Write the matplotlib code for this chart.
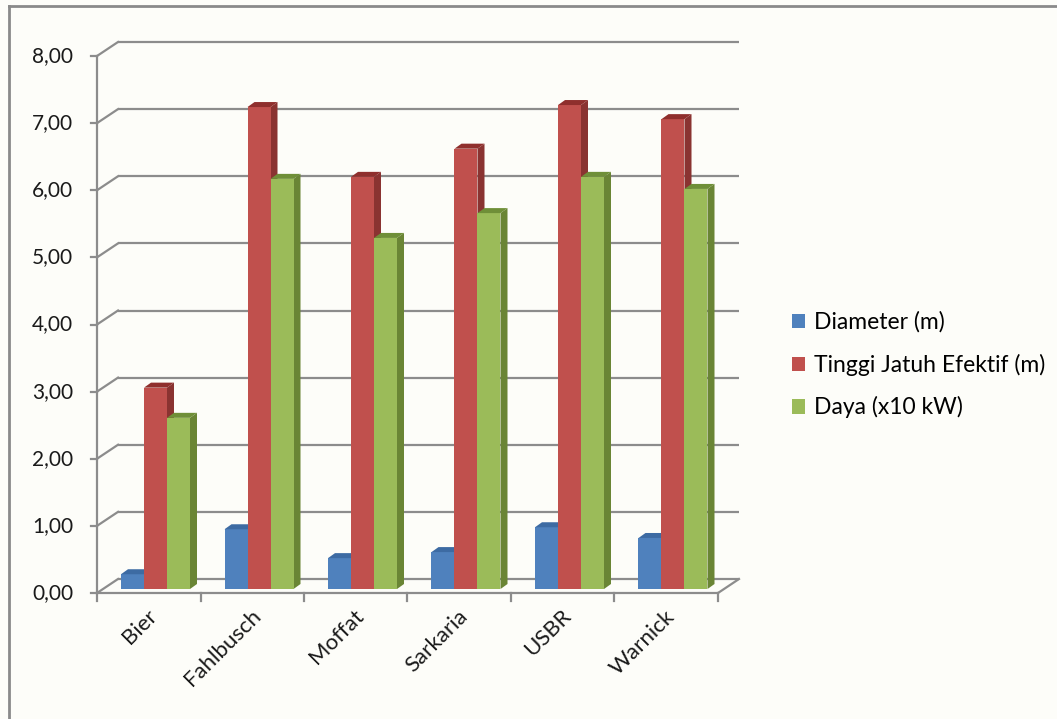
import matplotlib
matplotlib.use("Agg")
import matplotlib.pyplot as plt
from matplotlib.patches import Polygon, Patch
from matplotlib.lines import Line2D

plt.rcParams['font.family'] = ['Lato', 'DejaVu Sans']

# Data
categories = ["Bier", "Fahlbusch", "Moffat", "Sarkaria", "USBR", "Warnick"]
diameter = [0.22, 0.89, 0.46, 0.55, 0.92, 0.76]
tinggi_jatuh = [3.00, 7.18, 6.14, 6.56, 7.21, 7.00]
daya = [2.55, 6.11, 5.23, 5.60, 6.14, 5.96]
series_names = ["Diameter (m)", "Tinggi Jatuh Efektif (m)", "Daya (x10 kW)"]
y_ticks = [0, 1, 2, 3, 4, 5, 6, 7, 8]
y_tick_labels = ["0,00", "1,00", "2,00", "3,00", "4,00", "5,00", "6,00", "7,00", "8,00"]

# face colours: front, top, side
face_colors = [
    ("#4F81BD", "#3D6BA3", "#365E8E"),
    ("#C0504D", "#8F2F2D", "#8A3331"),
    ("#9BBB59", "#6F8F38", "#6A8535"),
]

W, H = 1057, 719
fig = plt.figure(figsize=(W / 100, H / 100), dpi=100)
fig.patch.set_facecolor("#FDFDF9")

# chart frame (top and left edges visible)
fig.add_artist(Line2D([9 / W, 9 / W], [0, 1 - 6 / H], transform=fig.transFigure,
                      color="#8A8A8A", lw=2))
fig.add_artist(Line2D([9 / W, 1], [1 - 6 / H, 1 - 6 / H], transform=fig.transFigure,
                      color="#8A8A8A", lw=2))

ax = fig.add_axes([0.04281, 0.08188, 0.68543, 0.93359])
ax.set_xlim(-0.5, 6.5)
ax.set_ylim(-1, 9)
ax.patch.set_alpha(0)
for s in ax.spines.values():
    s.set_visible(False)
ax.set_xticks([])
ax.set_yticks([])

n = len(categories)
grid_c = "#8C8C8C"
glw = 1.6
# depth of the back wall in data units
wdx, wdy = 21 / 103.5, 14 / 67.125

# back wall gridlines with diagonal connectors and value labels
for v, lab in zip(y_ticks, y_tick_labels):
    ax.plot([wdx, n + wdx], [v + wdy, v + wdy], color=grid_c, lw=glw, zorder=1,
            solid_capstyle="butt")
    ax.plot([0, wdx], [v, v + wdy], color=grid_c, lw=glw, zorder=1)
    ax.plot([-6 / 103.5, 0], [v, v], color=grid_c, lw=glw, zorder=1)
    ax.text(-24 / 103.5, v, lab, ha="right", va="center",
            fontsize=15, color="#1A1A1A")

# front vertical axis
ax.plot([0, 0], [0, 8], color=grid_c, lw=glw, zorder=1)
# floor front edge, right edge
ax.plot([0, n], [0, 0], color=grid_c, lw=glw, zorder=1)
ax.plot([n, n + wdx], [0, wdy], color=grid_c, lw=glw, zorder=1)
# category ticks
for i in range(n + 1):
    ax.plot([i, i], [0, -8 / 67.125], color=grid_c, lw=glw, zorder=1)

# bars with a simple 3D extrusion
bw = 23 / 103.5
gx = 24 / 103.5
sy = 4 / 67.125
ddx, ddy = 7 / 103.5, 5 / 67.125
series = [diameter, tinggi_jatuh, daya]
z = 2
for i in range(n):
    for k, vals in enumerate(series):
        front, top, side = face_colors[k]
        x0 = i + gx + k * bw
        v = vals[i]
        ax.bar(x0, v, bottom=sy, width=bw, align="edge", color=front,
               edgecolor="none", zorder=z)
        ax.add_patch(Polygon([(x0, sy + v), (x0 + bw, sy + v),
                              (x0 + bw + ddx, sy + v + ddy), (x0 + ddx, sy + v + ddy)],
                             closed=True, facecolor=top, edgecolor="none", zorder=z))
        ax.add_patch(Polygon([(x0 + bw, sy), (x0 + bw, sy + v),
                              (x0 + bw + ddx, sy + v + ddy), (x0 + bw + ddx, sy + ddy)],
                             closed=True, facecolor=side, edgecolor="none", zorder=z - 0.5))
        z += 1

# category labels
for i, c in enumerate(categories):
    ax.text(i + 0.55, -0.30, c, rotation=45, rotation_mode="anchor",
            ha="right", va="center", fontsize=16, color="#1A1A1A")

# legend
handles = [Patch(facecolor=face_colors[k][0], edgecolor="none") for k in range(3)]
fig.legend(handles, series_names, loc="center left",
           bbox_to_anchor=(776 / W, 1 - 365 / H), frameon=False, fontsize=16.5,
           handlelength=0.58, handleheight=0.58, handletextpad=0.38,
           labelspacing=0.9, borderpad=0.2)

fig.savefig("out.png", dpi=100, facecolor=fig.get_facecolor())
